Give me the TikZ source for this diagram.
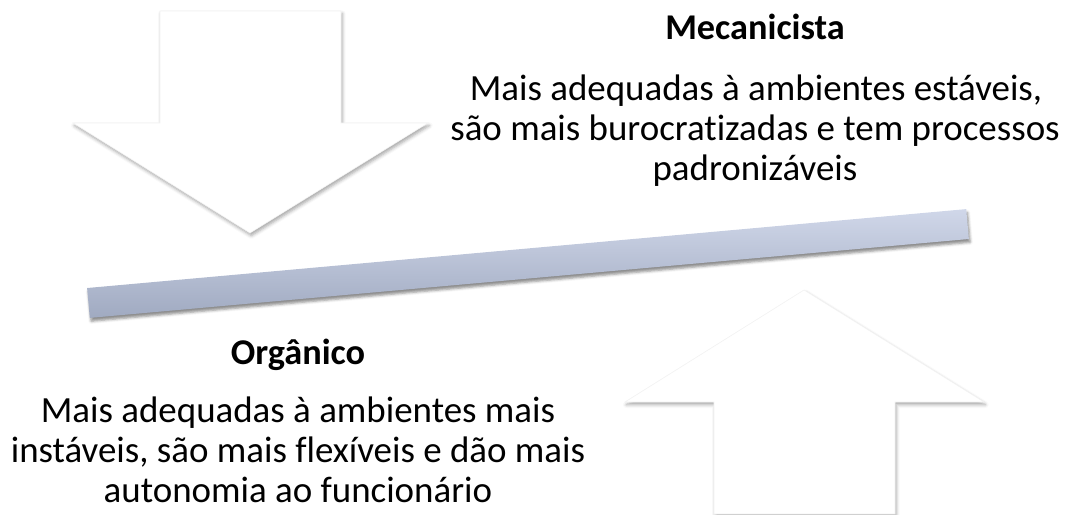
\documentclass[tikz,border=0pt]{standalone}
\usepackage{fontspec}
\setmainfont{Carlito}[Ligatures=NoCommon]
\usetikzlibrary{positioning,shadows.blur}
\definecolor{bartop}{RGB}{208,215,233}
\definecolor{barbottom}{RGB}{160,170,193}

\begin{document}
\begin{tikzpicture}[x=0.75pt,y=-0.75pt,
    arrowshape/.style={fill=white,draw=black!5,line width=0.4pt,
        blur shadow={shadow xshift=1pt,shadow yshift=-2pt,shadow opacity=35,shadow blur radius=2.5pt}},
    titletext/.style={font=\fontsize{27.2}{30}\selectfont\bfseries,inner sep=0pt,anchor=base},
    bodytext/.style={font=\fontsize{27.7}{30}\selectfont,inner sep=0pt,anchor=base}]
    \useasboundingbox (0,0) rectangle (1067,514);

    % Arrow pointing down
    \path[arrowshape] (160,11) -- (341,11) -- (341,123) -- (428,123) -- (250,233)
        -- (73,123) -- (160,123) -- cycle;

    % Arrow pointing up
    \path[arrowshape] (804,290) -- (984,402) -- (895,402) -- (895,514) -- (714,514)
        -- (714,402) -- (625,402) -- cycle;

    % Tilted bar
    \node[rotate=5.13,minimum width=662pt,minimum height=22.5pt,inner sep=0pt,
        top color=bartop,bottom color=barbottom,
        blur shadow={shadow xshift=1pt,shadow yshift=-2.5pt,shadow opacity=45,shadow blur radius=2pt}]
        (bar) at (528,263.5) {};

    % Mecanicista
    \node[titletext] (mec) at (755,39) {Mecanicista};
    \node[bodytext] (mec1) at (756,100) {Mais adequadas à ambientes estáveis,};
    \node[bodytext] (mec2) at (755,140) {são mais burocratizadas e tem processos};
    \node[bodytext] (mec3) at (755,180) {padronizáveis};

    % Organico
    \node[titletext] (org) at (298,364) {Orgânico};
    \node[bodytext] (org1) at (298,422) {Mais adequadas à ambientes mais};
    \node[bodytext] (org2) at (298,462) {instáveis, são mais flexíveis e dão mais};
    \node[bodytext] (org3) at (298,502) {autonomia ao funcionário};
\end{tikzpicture}
\end{document}
